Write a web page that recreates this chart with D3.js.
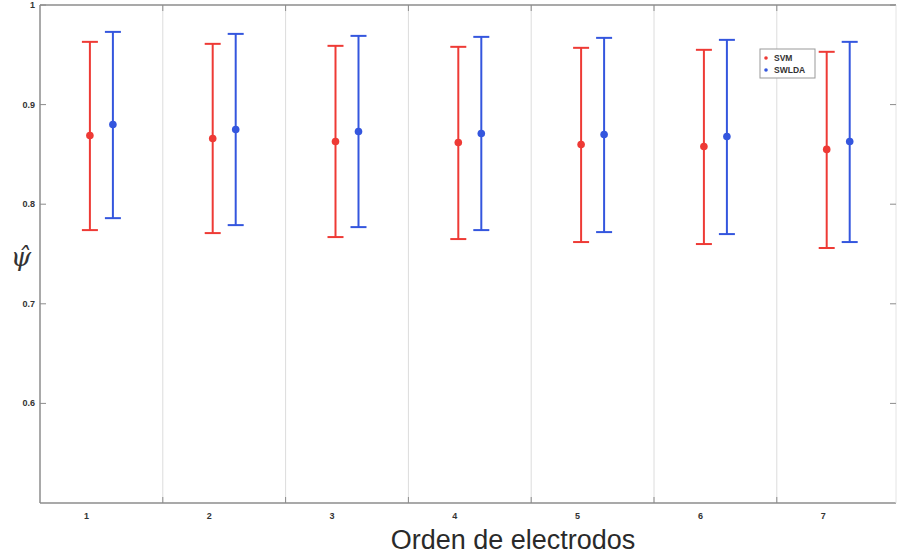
<!DOCTYPE html>
<html><head><meta charset="utf-8">
<script src="https://cdn.jsdelivr.net/npm/d3@7"></script>
<style>body{margin:0;background:#fff}svg{display:block}</style>
</head><body><svg id="c" width="897" height="556"></svg>
<script>
const categories = ["1","2","3","4","5","6","7"];
const svmMean  = [0.869, 0.866, 0.863, 0.862, 0.860, 0.858, 0.855];
const svmLow   = [0.774, 0.771, 0.767, 0.765, 0.762, 0.760, 0.756];
const svmHigh  = [0.963, 0.961, 0.959, 0.958, 0.957, 0.955, 0.953];
const swldaMean = [0.880, 0.875, 0.873, 0.871, 0.870, 0.868, 0.863];
const swldaLow  = [0.786, 0.779, 0.777, 0.774, 0.772, 0.770, 0.762];
const swldaHigh = [0.973, 0.971, 0.969, 0.968, 0.967, 0.965, 0.963];
const yTicks = [0.6, 0.7, 0.8, 0.9, 1];
const seriesNames = ["SVM", "SWLDA"];
const colors = ["#ee3a35", "#3456de"];

const svg = d3.select("#c");
const L = 40, R = 896, T = 5, B = 503;
const x = d3.scaleLinear().domain([0.5, 7.5]).range([L, 899.6]);
const y = d3.scaleLinear().domain([0.5, 1]).range([B, T]);

// vertical gridlines between groups
const bounds = d3.range(1.5, 7.5, 1);
svg.append("g").selectAll("line").data(bounds).join("line")
  .attr("x1", d => x(d)).attr("x2", d => x(d)).attr("y1", T).attr("y2", B)
  .attr("stroke", "#dcdcdc").attr("stroke-width", 1);

// frame
const axCol = "#8c8c8c";
svg.append("line").attr("x1", L).attr("x2", R).attr("y1", B).attr("y2", B).attr("stroke", axCol).attr("stroke-width", 1.5);
svg.append("line").attr("x1", L).attr("x2", R).attr("y1", T).attr("y2", T).attr("stroke", axCol).attr("stroke-width", 1.5);
svg.append("line").attr("x1", L).attr("x2", L).attr("y1", T).attr("y2", B).attr("stroke", axCol).attr("stroke-width", 1.5);
svg.append("line").attr("x1", R).attr("x2", R).attr("y1", T).attr("y2", B).attr("stroke", "#e4e4e4").attr("stroke-width", 1);

// x ticks at boundaries (inside, bottom and top)
svg.append("g").selectAll("line").data(bounds).join("line")
  .attr("x1", d => x(d)).attr("x2", d => x(d)).attr("y1", B).attr("y2", B - 6)
  .attr("stroke", axCol);
svg.append("g").selectAll("line").data(bounds).join("line")
  .attr("x1", d => x(d)).attr("x2", d => x(d)).attr("y1", T).attr("y2", T + 6)
  .attr("stroke", axCol);

// x category labels
svg.append("g").selectAll("text").data(categories).join("text")
  .attr("x", (d, i) => x(i + 1) - 15).attr("y", B + 16)
  .attr("text-anchor", "middle")
  .attr("font-family", "Liberation Sans, Arial, sans-serif").attr("font-size", 9).attr("font-weight", "bold")
  .attr("fill", "#333").text(d => d);

// y axis ticks & labels
svg.append("g").selectAll("line").data(yTicks).join("line")
  .attr("x1", L).attr("x2", L + 6).attr("y1", d => y(d)).attr("y2", d => y(d)).attr("stroke", axCol);
svg.append("g").selectAll("line").data(yTicks).join("line")
  .attr("x1", R).attr("x2", R - 6).attr("y1", d => y(d)).attr("y2", d => y(d)).attr("stroke", axCol);
svg.append("g").selectAll("text").data(yTicks).join("text")
  .attr("x", L - 5).attr("y", d => y(d) + 3)
  .attr("text-anchor", "end")
  .attr("font-family", "Liberation Sans, Arial, sans-serif").attr("font-size", 9).attr("font-weight", "bold")
  .attr("fill", "#333").text(d => d3.format("")(d));

// error bars
const series = [
  {name: seriesNames[0], mean: svmMean, low: svmLow, high: svmHigh, off: -11.5, color: colors[0]},
  {name: seriesNames[1], mean: swldaMean, low: swldaLow, high: swldaHigh, off: 11.5, color: colors[1]}
];
series.forEach(s => {
  const g = svg.append("g");
  const cx = i => x(i + 1) + s.off;
  const idx = d3.range(categories.length);
  g.selectAll(".v").data(idx).join("line")
    .attr("x1", cx).attr("x2", cx).attr("y1", i => y(s.high[i])).attr("y2", i => y(s.low[i]))
    .attr("stroke", s.color).attr("stroke-width", 2);
  g.selectAll(".ct").data(idx).join("line")
    .attr("x1", i => cx(i) - 8).attr("x2", i => cx(i) + 8).attr("y1", i => y(s.high[i])).attr("y2", i => y(s.high[i]))
    .attr("stroke", s.color).attr("stroke-width", 2);
  g.selectAll(".cb").data(idx).join("line")
    .attr("x1", i => cx(i) - 8).attr("x2", i => cx(i) + 8).attr("y1", i => y(s.low[i])).attr("y2", i => y(s.low[i]))
    .attr("stroke", s.color).attr("stroke-width", 2);
  g.selectAll("circle").data(idx).join("circle")
    .attr("cx", cx).attr("cy", i => y(s.mean[i])).attr("r", 3.8).attr("fill", s.color);
});

// legend
const lg = svg.append("g").attr("transform", "translate(760,49)");
lg.append("rect").attr("width", 55).attr("height", 29).attr("fill", "#fff").attr("stroke", "#999").attr("stroke-width", 1);
series.forEach((s, i) => {
  lg.append("circle").attr("cx", 6).attr("cy", 9 + i * 12).attr("r", 1.8).attr("fill", s.color);
  lg.append("text").attr("x", 14).attr("y", 12 + i * 12)
    .attr("font-family", "Liberation Sans, Arial, sans-serif").attr("font-size", 8.5).attr("font-weight", "bold")
    .attr("fill", "#333").text(s.name);
});

// axis titles
svg.append("text").attr("x", 513).attr("y", 549).attr("text-anchor", "middle")
  .attr("font-family", "Liberation Sans, Arial, sans-serif").attr("font-size", 27)
  .attr("fill", "#2a2a2a").text("Orden de electrodos");
svg.append("text").attr("x", 21).attr("y", 266).attr("text-anchor", "middle")
  .attr("font-family", "DejaVu Serif, serif").attr("font-style", "italic").attr("font-size", 26)
  .attr("fill", "#333").text("ψ\u0302");
</script></body></html>
